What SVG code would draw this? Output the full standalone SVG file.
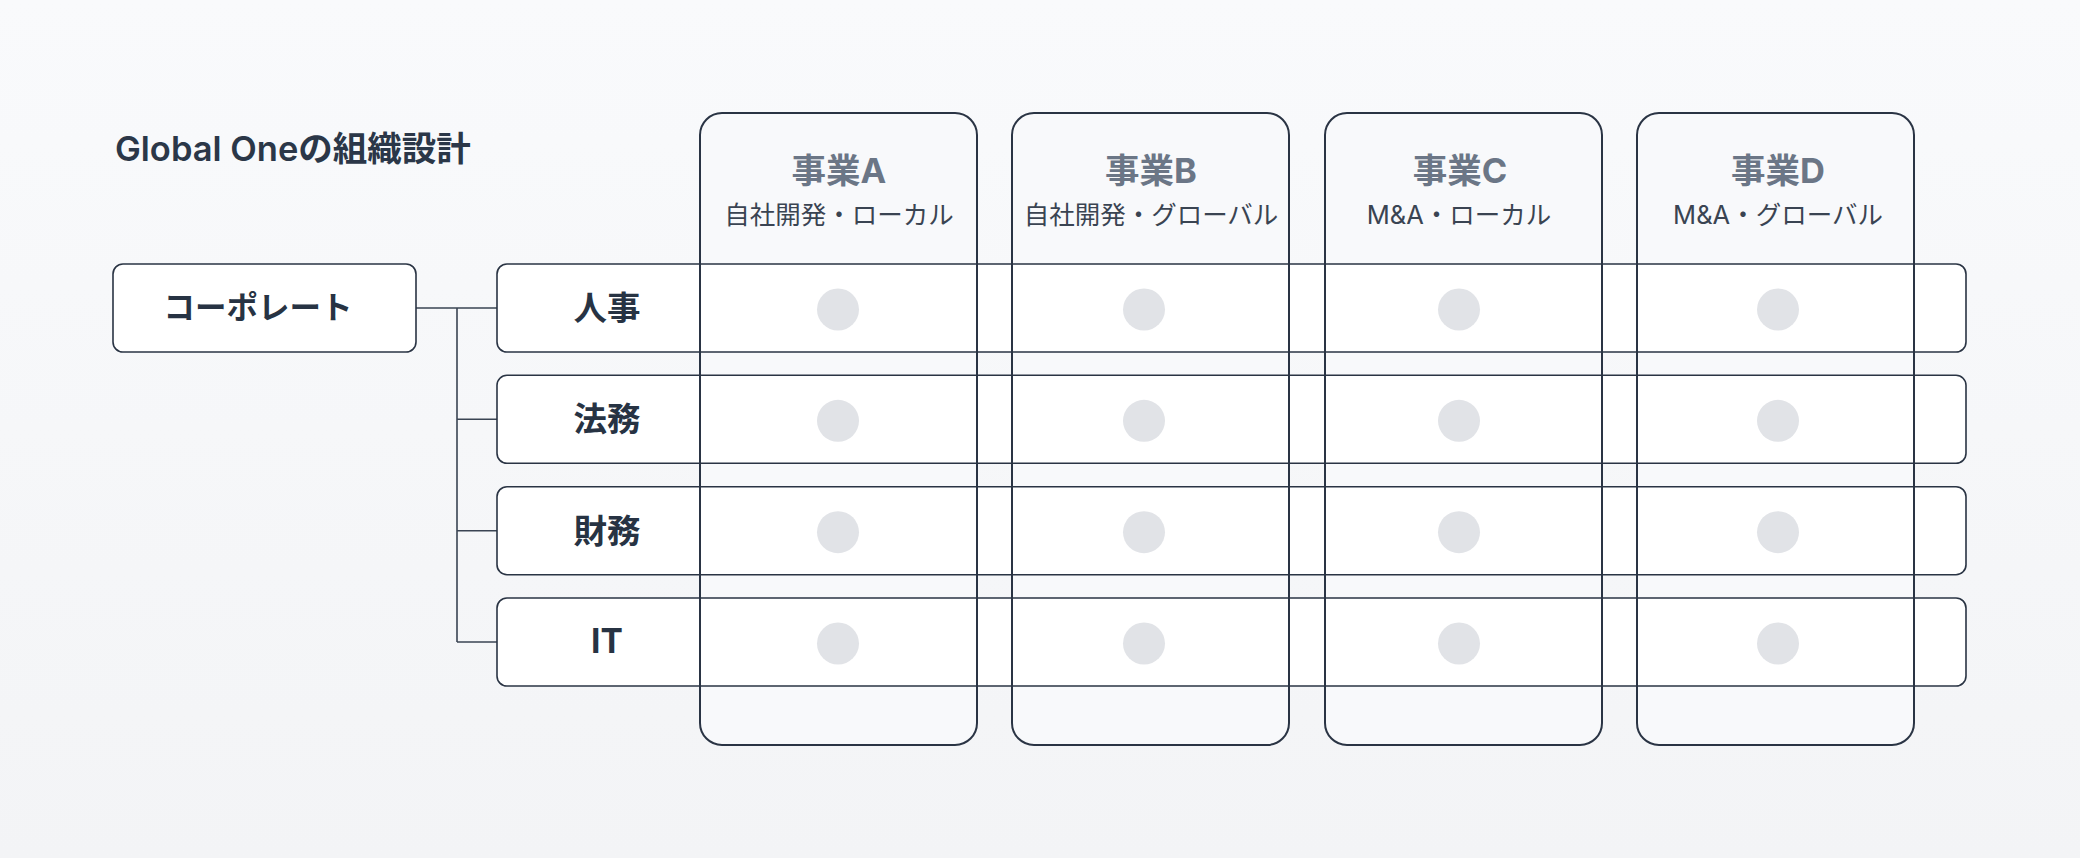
<svg xmlns="http://www.w3.org/2000/svg" width="2080" height="858" viewBox="0 0 2080 858">
<defs>
<linearGradient id="bg" x1="0" y1="0" x2="0" y2="1">
<stop offset="0" stop-color="#f9fafc"/>
<stop offset="1" stop-color="#f3f4f6"/>
</linearGradient>
<style>
.col-bg{fill:#f8f9fb;stroke:none}
.col-line{fill:none;stroke:#2a3444;stroke-width:2}
.row{fill:#ffffff;stroke:#2a3444;stroke-width:1.6}
.box{fill:#ffffff;stroke:#2a3444;stroke-width:1.6}
.dot{fill:#e1e3e7}
.conn{fill:none;stroke:#3a4453;stroke-width:1.6}
text{font-family:"Inter","Noto Sans CJK JP",sans-serif}
.title{font-size:34.5px;font-weight:600;fill:#2b3748}
.head{font-size:34.5px;font-weight:700;fill:#6b7686;text-anchor:middle}
.sub{font-size:25.5px;font-weight:400;fill:#3a4452;text-anchor:middle}
.lbl{font-size:33.5px;font-weight:700;fill:#273343;text-anchor:middle}
.corp{font-size:31.5px}
</style>
</defs>
<rect width="2080" height="858" fill="url(#bg)"/>
<text class="title" x="115" y="161">Global Oneの組織設計</text>

<g id="columns-bg">
<rect class="col-bg" x="700" y="113" width="277" height="632" rx="22"/>
<rect class="col-bg" x="1012" y="113" width="277" height="632" rx="22"/>
<rect class="col-bg" x="1325" y="113" width="277" height="632" rx="22"/>
<rect class="col-bg" x="1637" y="113" width="277" height="632" rx="22"/>
</g>

<g id="connectors">
<path class="conn" d="M416 308 H497 M457 308 V642 M457 419.3 H497 M457 530.7 H497 M457 642 H497"/>
</g>

<g id="corporate">
<rect class="box" x="113" y="264" width="303" height="88" rx="10"/>
<text class="lbl corp" x="258" y="319">コーポレート</text>
</g>

<g id="row-hr">
<rect class="row" x="497" y="264" width="1469" height="88" rx="10"/>
<text class="lbl" x="607" y="320">人事</text>
</g>
<g id="row-legal">
<rect class="row" x="497" y="375.3" width="1469" height="88" rx="10"/>
<text class="lbl" x="607" y="431.3">法務</text>
</g>
<g id="row-finance">
<rect class="row" x="497" y="486.7" width="1469" height="88" rx="10"/>
<text class="lbl" x="607" y="542.7">財務</text>
</g>
<g id="row-it">
<rect class="row" x="497" y="598" width="1469" height="88" rx="10"/>
<text class="lbl" x="607" y="653">IT</text>
</g>

<g id="col-a">
<rect class="col-line" x="700" y="113" width="277" height="632" rx="22"/>
<text class="head" x="839" y="183">事業A</text>
<text class="sub" x="839" y="224">自社開発・ローカル</text>
</g>
<g id="col-b">
<rect class="col-line" x="1012" y="113" width="277" height="632" rx="22"/>
<text class="head" x="1151" y="183">事業B</text>
<text class="sub" x="1151" y="224">自社開発・グローバル</text>
</g>
<g id="col-c">
<rect class="col-line" x="1325" y="113" width="277" height="632" rx="22"/>
<text class="head" x="1460" y="183">事業C</text>
<text class="sub" x="1459" y="224">M&amp;A・ローカル</text>
</g>
<g id="col-d">
<rect class="col-line" x="1637" y="113" width="277" height="632" rx="22"/>
<text class="head" x="1778" y="183">事業D</text>
<text class="sub" x="1778" y="224">M&amp;A・グローバル</text>
</g>

<g id="dots">
<circle class="dot" cx="838" cy="309.5" r="21"/>
<circle class="dot" cx="1144" cy="309.5" r="21"/>
<circle class="dot" cx="1459" cy="309.5" r="21"/>
<circle class="dot" cx="1778" cy="309.5" r="21"/>
<circle class="dot" cx="838" cy="420.8" r="21"/>
<circle class="dot" cx="1144" cy="420.8" r="21"/>
<circle class="dot" cx="1459" cy="420.8" r="21"/>
<circle class="dot" cx="1778" cy="420.8" r="21"/>
<circle class="dot" cx="838" cy="532.2" r="21"/>
<circle class="dot" cx="1144" cy="532.2" r="21"/>
<circle class="dot" cx="1459" cy="532.2" r="21"/>
<circle class="dot" cx="1778" cy="532.2" r="21"/>
<circle class="dot" cx="838" cy="643.5" r="21"/>
<circle class="dot" cx="1144" cy="643.5" r="21"/>
<circle class="dot" cx="1459" cy="643.5" r="21"/>
<circle class="dot" cx="1778" cy="643.5" r="21"/>
</g>
</svg>
